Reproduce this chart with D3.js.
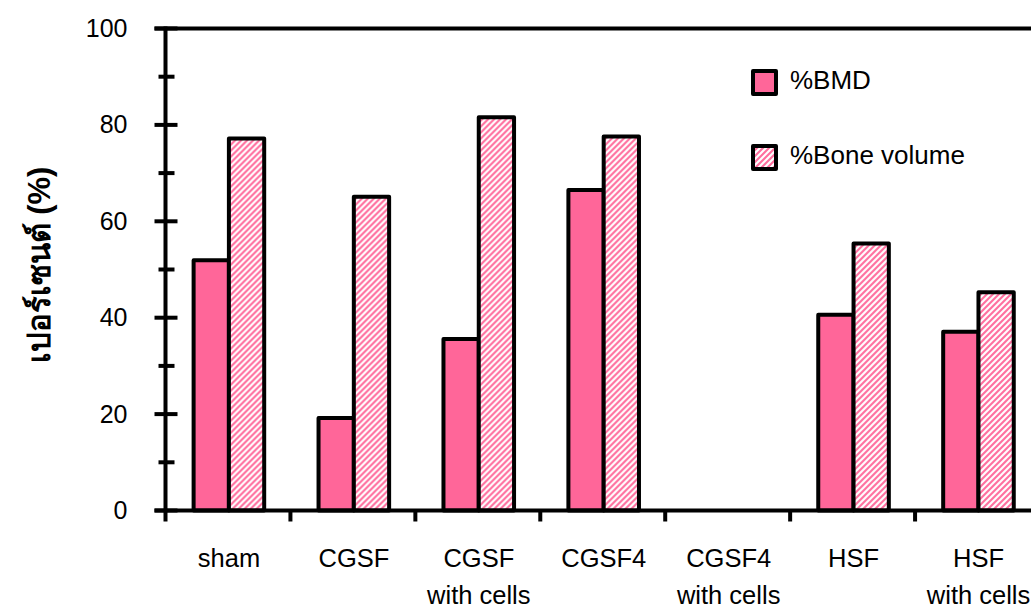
<!DOCTYPE html>
<html>
<head>
<meta charset="utf-8">
<script src="https://cdn.jsdelivr.net/npm/d3@7"></script>
<style>
  html, body { margin: 0; padding: 0; background: #fff; }
  svg { display: block; }
  text { font-family: "Liberation Sans", Arial, sans-serif; fill: #000; }
</style>
</head>
<body>
<svg id="chart" width="1031" height="608"></svg>
<script>
// Groups along the x axis (two-line labels split on "\n")
const categories = ["sham", "CGSF", "CGSF\nwith cells", "CGSF4", "CGSF4\nwith cells", "HSF", "HSF\nwith cells"];
// Percent values per group
const bmdValues = [51.9, 19.2, 35.6, 66.5, 0, 40.6, 37.1];
const boneVolumeValues = [77.2, 65.1, 81.6, 77.6, 0, 55.4, 45.3];
const seriesNames = ["%BMD", "%Bone volume"];
const yTicks = [0, 20, 40, 60, 80, 100];
const yMinorTicks = [10, 30, 50, 70, 90];
const yLabel = "เปอร์เซนต์ (%)";

const pink = "#ff6699";
const svg = d3.select("#chart");

const plot = { left: 165.5, right: 1040, top: 28.5, bottom: 510.5 };

const x0 = d3.scaleBand().domain(d3.range(categories.length)).range([plot.left, plot.right]).paddingInner(0).paddingOuter(0);
const bw = x0.bandwidth();
const x1 = d3.scaleBand().domain([0, 1]).range([bw * 0.225, bw * 0.79]).padding(0);
const y = d3.scaleLinear().domain([0, 100]).range([plot.bottom, plot.top]);

// Diagonal hatch for the bone volume bars
const defs = svg.append("defs");
const pat = defs.append("pattern")
  .attr("id", "hatch")
  .attr("patternUnits", "userSpaceOnUse")
  .attr("width", 6).attr("height", 6);
pat.append("rect").attr("width", 6).attr("height", 6).attr("fill", "#fff");
pat.append("path")
  .attr("d", "M-1,1 l2,-2 M0,6 l6,-6 M5,7 l2,-2")
  .attr("stroke", "#ff6e9e").attr("stroke-width", 2.1).attr("fill", "none");

const fills = [pink, "url(#hatch)"];
const series = [bmdValues, boneVolumeValues];

// Bars
const groups = svg.append("g").selectAll("g")
  .data(categories.map((c, i) => ({ i, vals: series.map(s => s[i]) })))
  .join("g")
  .attr("transform", d => `translate(${x0(d.i)},0)`);

groups.selectAll("rect")
  .data(d => d.vals.map((v, k) => ({ v, k })).filter(e => e.v > 0))
  .join("rect")
  .attr("x", e => x1(e.k))
  .attr("width", x1.bandwidth())
  .attr("y", e => y(e.v))
  .attr("height", e => y(0) - y(e.v))
  .attr("fill", e => fills[e.k])
  .attr("stroke", "#000")
  .attr("stroke-width", 4)
  .attr("stroke-linejoin", "round");

// Y axis: major ticks cross the line, minor ticks shorter
const yAxisG = svg.append("g").attr("transform", `translate(${plot.left},0)`);
yAxisG.call(d3.axisLeft(y).tickValues(yTicks).tickSizeInner(0).tickSizeOuter(0).tickPadding(38).tickFormat(d3.format("d")));
yAxisG.select(".domain").remove();
yAxisG.selectAll(".tick text")
  .style("font-family", "'Liberation Sans', Arial, sans-serif")
  .style("font-size", "25px")
  .attr("fill", "#000");
yAxisG.append("line").attr("x1", 0).attr("x2", 0).attr("y1", plot.top - 2).attr("y2", plot.bottom + 11)
  .attr("stroke", "#000").attr("stroke-width", 4);
yAxisG.selectAll(".major").data(yTicks).join("line").attr("class", "major")
  .attr("x1", -11).attr("x2", 12).attr("y1", d => y(d)).attr("y2", d => y(d))
  .attr("stroke", "#000").attr("stroke-width", 4);
yAxisG.selectAll(".minor").data(yMinorTicks).join("line").attr("class", "minor")
  .attr("x1", -7).attr("x2", 9).attr("y1", d => y(d)).attr("y2", d => y(d))
  .attr("stroke", "#000").attr("stroke-width", 4);

// Top edge of the plot area
svg.append("line")
  .attr("x1", plot.left - 11).attr("x2", plot.right)
  .attr("y1", y(100)).attr("y2", y(100))
  .attr("stroke", "#000").attr("stroke-width", 4);

// X axis with category boundary ticks
const xAxisG = svg.append("g");
xAxisG.append("line").attr("x1", plot.left - 11).attr("x2", plot.right)
  .attr("y1", y(0)).attr("y2", y(0)).attr("stroke", "#000").attr("stroke-width", 4);
xAxisG.selectAll(".xt").data(d3.range(1, categories.length)).join("line").attr("class", "xt")
  .attr("x1", i => x0(i)).attr("x2", i => x0(i))
  .attr("y1", y(0)).attr("y2", y(0) + 11)
  .attr("stroke", "#000").attr("stroke-width", 4);

const xl = svg.append("g").selectAll("text")
  .data(categories.map((c, i) => ({ c, i })))
  .join("text")
  .attr("text-anchor", "middle")
  .style("font-size", "25.5px")
  .attr("x", d => x0(d.i) + bw / 2 + 1)
  .attr("y", 567);
xl.selectAll("tspan").data(d => d.c.split("\n").map(t => ({ t, x: x0(d.i) + bw / 2 + 1 })))
  .join("tspan")
  .attr("x", t => t.x)
  .attr("dy", (t, j) => j === 0 ? 0 : 37)
  .text(t => t.t);

// Y axis title
svg.append("text")
  .attr("transform", `translate(50,265) rotate(-90)`)
  .attr("text-anchor", "middle")
  .style("font-size", "31px")
  .style("font-weight", "bold")
  .text(yLabel);

// Legend
const legend = svg.append("g").selectAll("g").data(seriesNames).join("g")
  .attr("transform", (d, k) => `translate(753,${71 + k * 75})`);
legend.append("rect").attr("x", 0).attr("y", 0).attr("width", 23).attr("height", 23)
  .attr("fill", (d, k) => fills[k]).attr("stroke", "#000").attr("stroke-width", 4)
  .attr("stroke-linejoin", "round");
legend.append("text").attr("x", 37).attr("y", 18).style("font-size", "26px").text(d => d);
</script>
</body>
</html>
